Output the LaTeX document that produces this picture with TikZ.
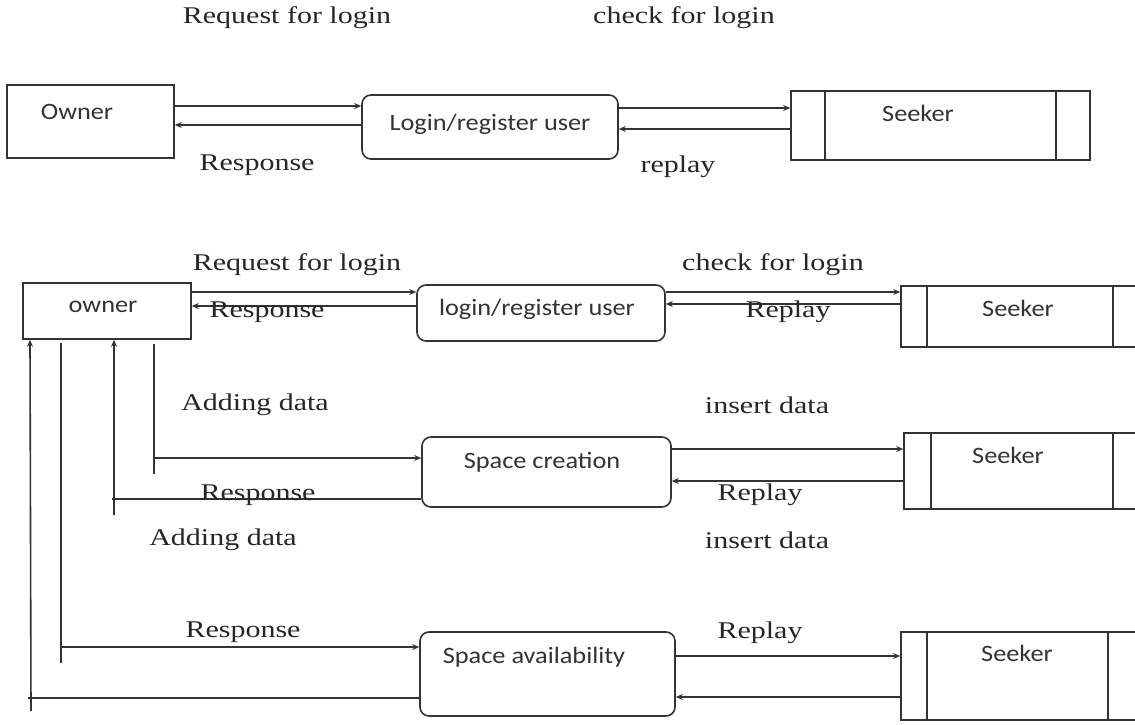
\documentclass[tikz,border=0pt]{standalone}
\usepackage{fontspec}
\setmainfont{Liberation Serif}
\newfontfamily\boxfont{Carlito}
\usetikzlibrary{arrows.meta}
\newcommand\wlab[1]{\scalebox{1.25}[1]{#1}}
\newcommand\wbox[1]{\scalebox{1.12}[1]{#1}}
\tikzset{
  lab/.style={font=\fontsize{24}{24}\selectfont, text=black!85, inner sep=0},
  btext/.style={font=\boxfont\fontsize{23.5}{23.5}\selectfont, text=black!80, inner sep=0},
  line/.style={draw=black!80, line width=1.6pt},
  arr/.style={line, -{Stealth[length=7pt,width=6pt]}},
  ent/.style={draw=black!80, line width=1.6pt, inner sep=0, anchor=center},
  proc/.style={ent, rounded corners=9pt},
}
\begin{document}
\begin{tikzpicture}[x=1pt,y=-1pt]
\useasboundingbox (0,0) rectangle (1135,725);
\clip (0,0) rectangle (1135,725);
\fill[white] (0,0) rectangle (1135,725);

% ---------- Row 1 ----------
\node[ent, minimum width=167pt, minimum height=73pt] (O1) at (90.5,121.5) {};
\node[btext] (O1t) at (77,112) {\wbox{Owner}};
\node[proc, minimum width=256pt, minimum height=64pt] (L1) at (490,127) {};
\node[btext] (L1t) at (490,124) {\wbox{Login/register user}};
\node[ent, minimum width=299pt, minimum height=69pt] (S1) at (940.5,125.5) {};
\node[btext] (S1t) at (918,113) {\wbox{Seeker}};
\draw[line] ([xshift=35]S1.north west) -- ([xshift=35]S1.south west);
\draw[line] ([xshift=-35]S1.north east) -- ([xshift=-35]S1.south east);

\draw[arr] ([yshift=15.5]O1.east) -- ([yshift=21]L1.west);
\draw[arr] ([yshift=2]L1.west) -- ([yshift=-3.5]O1.east);
\draw[arr] ([yshift=19]L1.east) -- ([yshift=17.5]S1.west);
\draw[arr] ([yshift=-3.5]S1.west) -- ([yshift=-2]L1.east);

\node[lab] (r1a) at (287,18) {\wlab{Request for login}};
\node[lab] (r1b) at (684,18) {\wlab{check for login}};
\node[lab] (r1c) at (257,165) {\wlab{Response}};
\node[lab] (r1d) at (678,167) {\wlab{replay}};

% ---------- Row 2 ----------
\node[ent, minimum width=168pt, minimum height=56pt] (O2) at (107,311) {};
\node[btext] (O2t) at (103,307) {\wbox{owner}};
\node[proc, minimum width=248pt, minimum height=56pt] (L2) at (541,313) {};
\node[btext] (L2t) at (537,309) {\wbox{login/register user}};
\node[ent, minimum width=249pt, minimum height=61pt] (S2) at (1025.5,316.5) {};
\node[btext] (S2t) at (1018,308) {\wbox{Seeker}};
\draw[line] ([xshift=27]S2.north west) -- ([xshift=27]S2.south west);
\draw[line] ([xshift=-38]S2.north east) -- ([xshift=-38]S2.south east);

\draw[arr] ([yshift=19]O2.east) -- ([yshift=21]L2.west);
\draw[arr] ([yshift=7]L2.west) -- ([yshift=5]O2.east);
\draw[arr] ([yshift=21]L2.east) -- ([yshift=24.5]S2.west);
\draw[arr] ([yshift=12.5]S2.west) -- ([yshift=9]L2.east);

\node[lab] (r2a) at (297,265) {\wlab{Request for login}};
\node[lab] (r2b) at (773,265) {\wlab{check for login}};
\node[lab] (r2c) at (267,312) {\wlab{Response}};
\node[lab] (r2d) at (788,312) {\wlab{Replay}};

% ---------- Row 3 ----------
\node[proc, minimum width=249pt, minimum height=70pt] (C) at (546.5,472) {};
\node[btext] (Ct) at (542,462) {\wbox{Space creation}};
\node[ent, minimum width=246pt, minimum height=76pt] (S3) at (1027,471) {};
\node[btext] (S3t) at (1008,455) {\wbox{Seeker}};
\draw[line] ([xshift=28]S3.north west) -- ([xshift=28]S3.south west);
\draw[line] ([xshift=-38]S3.north east) -- ([xshift=-38]S3.south east);

\coordinate (t1) at (154,474);
\coordinate (j1) at (154,458);
\coordinate (j2) at (112,499);
\coordinate (t2) at (114,515);
\draw[line] ([xshift=47,yshift=-4]O2.south) -- (t1);
\draw[arr] (j1) -- ([yshift=14]C.west);
\draw[line] ([yshift=-27]C.west) -- (j2);
\draw[arr] (t2) -- ([xshift=7]O2.south);

\draw[arr] ([yshift=23]C.east) -- ([yshift=22]S3.west);
\draw[arr] ([yshift=-10]S3.west) -- ([yshift=-9]C.east);

\node[lab] (r3a) at (255,405) {\wlab{Adding data}};
\node[lab] (r3b) at (767,405) {\wlab{insert data}};
\node[lab] (r3c) at (258,495) {\wlab{Response}};
\node[lab] (r3d) at (760,495) {\wlab{Replay}};
\node[lab] (r3e) at (223,540) {\wlab{Adding data}};
\node[lab] (r3f) at (767,540) {\wlab{insert data}};

% ---------- Row 4 ----------
\node[proc, minimum width=255pt, minimum height=84pt] (A) at (547.5,674) {};
\node[btext] (At) at (534,657) {\wbox{Space availability}};
\node[ent, minimum width=249pt, minimum height=88pt] (S4) at (1025.5,676) {};
\node[btext] (S4t) at (1017,653) {\wbox{Seeker}};
\draw[line] ([xshift=27]S4.north west) -- ([xshift=27]S4.south west);
\draw[line] ([xshift=-43]S4.north east) -- ([xshift=-43]S4.south east);

\coordinate (t3) at (61,663);
\coordinate (j3) at (61,647);
\coordinate (j4) at (28,698);
\coordinate (t4) at (31,711);
\draw[line] ([xshift=-46,yshift=-3]O2.south) -- (t3);
\draw[arr] (j3) -- ([yshift=27]A.west);
\draw[line] ([yshift=-24]A.west) -- (j4);
\draw[arr] (t4) -- ([xshift=-77]O2.south);

\draw[arr] ([yshift=18]A.east) -- ([yshift=20]S4.west);
\draw[arr] ([yshift=-21]S4.west) -- ([yshift=-23]A.east);

\node[lab] (r4a) at (243,632) {\wlab{Response}};
\node[lab] (r4b) at (760,633) {\wlab{Replay}};
\end{tikzpicture}
\end{document}
